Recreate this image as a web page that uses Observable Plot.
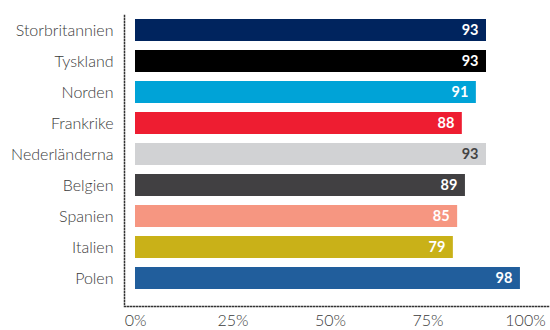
<!DOCTYPE html>
<html>
<head>
<meta charset="utf-8">
<script src="https://cdn.jsdelivr.net/npm/d3@7"></script>
<script src="https://cdn.jsdelivr.net/npm/@observablehq/plot@0.6"></script>
<style>
  html, body { margin: 0; padding: 0; background: #fff; }
  #chart { width: 550px; height: 330px; }
</style>
</head>
<body>
<div id="chart"></div>
<script>
const categories = ["Storbritannien", "Tyskland", "Norden", "Frankrike", "Nederländerna", "Belgien", "Spanien", "Italien", "Polen"];
// bar lengths as drawn (percent of axis)
const barValues = [90.0, 90.0, 87.4, 83.8, 90.0, 84.6, 82.6, 81.5, 98.7];
// printed value labels
const valueLabels = ["93", "93", "91", "88", "93", "89", "85", "79", "98"];
const barColors = ["#00245e", "#000000", "#00a3d7", "#ee1d31", "#d1d2d4", "#414042", "#f69681", "#c9b118", "#215e9c"];
const labelColors = ["#ffffff", "#ffffff", "#ffffff", "#ffffff", "#444444", "#ffffff", "#ffffff", "#ffffff", "#ffffff"];
const xTicks = [0, 25, 50, 75, 100];

const data = categories.map((c, i) => ({
  category: c, value: barValues[i], label: valueLabels[i], color: barColors[i], labelColor: labelColors[i]
}));

const chart = Plot.plot({
  width: 550,
  height: 330,
  marginTop: 15,
  marginBottom: 24,
  marginLeft: 124,
  marginRight: 1,
  style: { fontFamily: "Lato, 'Open Sans', sans-serif", background: "#fff" },
  x: { domain: [0, 100], insetLeft: 11, insetRight: 24 },
  y: { domain: categories, range: [16, 291], paddingInner: 0.3, paddingOuter: 0 },
  marks: [
    Plot.barX(data, { y: "category", x: "value", fill: "color" }),
    Plot.text(data, {
      y: "category", x: "value", text: "label", fill: "labelColor",
      textAnchor: "end", dx: -8, fontSize: 14.5, fontWeight: "bold"
    }),
    Plot.frame({ anchor: "left", stroke: "#333", strokeDasharray: "1,2", strokeWidth: 1.5 }),
    Plot.frame({ anchor: "bottom", stroke: "#333", strokeDasharray: "1,2", strokeWidth: 1.5 }),
    Plot.axisY({ tickSize: 0, tickPadding: 11, fontSize: 16, fontWeight: 300, fill: "#3a3a3a", label: null }),
    Plot.axisX({ ticks: xTicks, tickFormat: d => d + "%", tickSize: 0, tickPadding: 8, fontSize: 16, fontWeight: 300, fill: "#3a3a3a", label: null })
  ]
});
document.getElementById("chart").appendChild(chart);
</script>
</body>
</html>
